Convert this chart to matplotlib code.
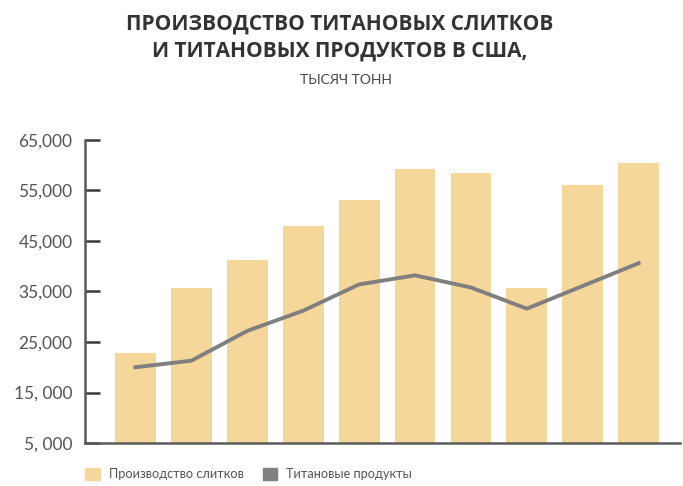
import matplotlib
matplotlib.use("Agg")
import matplotlib.pyplot as plt
from matplotlib.patches import Patch

# data
ingots = [22900, 35700, 41300, 48000, 53100, 59300, 58500, 35700, 56100, 60500]
products = [20000, 21300, 27200, 31200, 36400, 38200, 35800, 31600, 36100, 40600]
yticks = [5000, 15000, 25000, 35000, 45000, 55000, 65000]
ytick_labels = ["5, 000", "15, 000", "25,000", "35,000", "45,000", "55,000", "65,000"]

bar_color = "#f5d69b"
line_color = "#7f7f7f"
axis_color = "#5a5a5a"
text_color = "#555555"

plt.rcParams["font.family"] = ["Lato", "DejaVu Sans"]

fig = plt.figure(figsize=(6.83, 4.86), dpi=100)
ax = fig.add_axes([85 / 683, 1 - 443 / 486, (680 - 85) / 683, (443 - 140) / 486])

x = list(range(len(ingots)))
ax.bar(x, [v - 5000 for v in ingots], bottom=5000, width=0.73, color=bar_color, zorder=1)
ax.plot(x, products, color=line_color, linewidth=2.8, zorder=2, solid_joinstyle="round")

ax.set_xlim(-0.903, 9.74)
ax.set_ylim(5000, 65000)
ax.set_yticks(yticks)
ax.set_yticklabels(ytick_labels)
ax.set_xticks([])

for s in ["top", "right"]:
    ax.spines[s].set_visible(False)
for s in ["left", "bottom"]:
    ax.spines[s].set_color(axis_color)
    ax.spines[s].set_linewidth(1.8)
ax.tick_params(axis="y", direction="in", length=11, width=1.8, color="#3a3a3a",
               labelsize=12.5, labelcolor=text_color, pad=9)

fig.text(0.497, 1 - 24 / 486, "ПРОИЗВОДСТВО ТИТАНОВЫХ СЛИТКОВ", ha="center", va="center",
         fontsize=15, fontweight="bold", color="#333333", family=["Open Sans", "DejaVu Sans"])
fig.text(0.497, 1 - 51 / 486, "И ТИТАНОВЫХ ПРОДУКТОВ В США,", ha="center", va="center",
         fontsize=15, fontweight="bold", color="#333333", family=["Open Sans", "DejaVu Sans"])
fig.text(0.507, 1 - 80 / 486, "ТЫСЯЧ ТОНН", ha="center", va="center",
         fontsize=10, color="#444444")

handles = [Patch(color=bar_color, label="Производство слитков"),
           Patch(color="#7f7f84", label="Титановые продукты")]
fig.legend(handles=handles, loc="center left", bbox_to_anchor=(85 / 683, 1 - 474 / 486),
           ncol=2, frameon=False, fontsize=9.2, handlelength=1.15, handleheight=1.15,
           handletextpad=0.7, columnspacing=1.5, borderpad=0, borderaxespad=0,
           labelcolor=text_color)

fig.savefig("out.png", dpi=100)
